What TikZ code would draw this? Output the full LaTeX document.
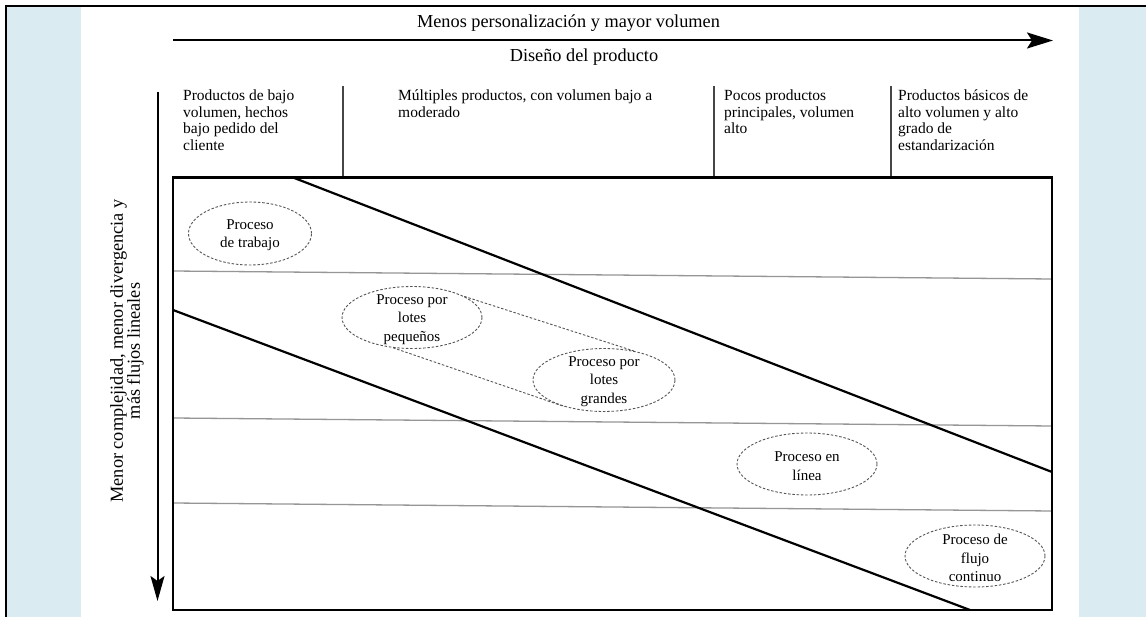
\documentclass[tikz,border=0pt]{standalone}
\usepackage{fontspec}
\setmainfont{Liberation Serif}
\usetikzlibrary{arrows.meta,shapes.geometric}
\definecolor{panelblue}{RGB}{218,236,241}
\definecolor{rowgray}{RGB}{150,150,150}
\definecolor{dashgray}{RGB}{85,85,85}
\definecolor{divgray}{RGB}{70,70,70}

\begin{document}
\begin{tikzpicture}[x=1pt,y=-1pt,
  ttl/.style={anchor=base, inner sep=0pt, font=\fontsize{18.3}{20}\selectfont},
  hdr/.style={anchor=north west, align=left, inner sep=0pt, font=\fontsize{15.5}{16.5}\selectfont},
  vlabel/.style={rotate=90, align=center, inner sep=0pt, font=\fontsize{18.3}{17}\selectfont},
  proc/.style={ellipse, draw=dashgray, line width=0.9pt, dash pattern=on 2.5pt off 1.8pt,
               inner sep=0pt, minimum width=140pt, minimum height=62pt},
  proctext/.style={align=center, inner sep=0pt, font=\fontsize{15}{18.5}\selectfont},
  dashlink/.style={draw=dashgray, line width=0.9pt, dash pattern=on 2.5pt off 1.8pt},
  axisline/.style={line width=2pt},
  divider/.style={draw=divgray, line width=1.3pt},
  rowline/.style={draw=rowgray, line width=1.3pt},
  bandline/.style={line width=2.2pt},
  frameline/.style={line width=2.5pt}]

\useasboundingbox (0,0) rectangle (1146,617);
\fill[white] (0,0) rectangle (1146,617);
% side panels and outer frame
\fill[panelblue] (7,7.5) rectangle (81,617);
\fill[panelblue] (1079,7.5) rectangle (1146,617);
\draw[line width=2pt] (6,617) -- (6,6.5) -- (1146,6.5);

% horizontal axis
\node[ttl] (ttop) at (568.5,27.5) {Menos personalización y mayor volumen};
\coordinate (xa0) at (173,40.5);
\coordinate (xa1) at (1053,40.5);
\draw[axisline, -{Stealth[length=26pt,width=16pt,inset=5pt]}] (xa0) -- (xa1);
\node[ttl] (tdis) at (584,62) {Diseño del producto};

% column headers
\node[hdr] (h1) at (183,90) {Productos de bajo\\volumen, hechos\\bajo pedido del\\cliente};
\node[hdr] (h2) at (398,90) {Múltiples productos, con volumen bajo a\\moderado};
\node[hdr] (h3) at (724,90) {Pocos productos\\principales, volumen\\alto};
\node[hdr] (h4) at (898,90) {Productos básicos de\\alto volumen y alto\\grado de\\estandarización};
\draw[divider] (343,86) -- (343,177);
\draw[divider] (714,86) -- (714,177);
\draw[divider] (891,86) -- (891,177);

% vertical axis
\coordinate (ya0) at (157.5,92);
\coordinate (ya1) at (157.5,601);
\draw[axisline, -{Stealth[length=25pt,width=14pt,inset=5pt]}] (ya0) -- (ya1);
\node[vlabel] (vlab) at (127,351) {Menor complejidad, menor divergencia y\\más flujos lineales};

% matrix rows
\draw[rowline] (173,271) -- (1052,279);
\draw[rowline] (173,418) -- (1052,426);
\draw[rowline] (173,503) -- (1052,511);

% diagonal band
\draw[bandline] (293,177.5) -- (1052,472);
\draw[bandline] (173,310) -- (970,610);

% matrix frame
\draw[frameline] (173,177.5) rectangle (1052,610);

% process types
\node[proc, minimum width=123pt, minimum height=63pt] (e1) at (250,233.5) {};
\node[proc] (e2) at (412,317.5) {};
\node[proc, minimum width=142pt, minimum height=63pt] (e3) at (604,380) {};
\node[proc] (e4) at (807,464) {};
\node[proc] (e5) at (975,556) {};

\node[proctext] (e1t) at (250,235) {Proceso\\de trabajo};
\node[proctext] (e2t) at (412,319.5) {Proceso por\\lotes\\pequeños};
\node[proctext] (e3t) at (604,381.5) {Proceso por\\lotes\\grandes};
\node[proctext] (e4t) at (807,466) {Proceso en\\línea};
\node[proctext] (e5t) at (975,558) {Proceso de\\flujo\\continuo};

\draw[dashlink] (e2.22) -- (e3.44);
\draw[dashlink] (e2.238) -- (e3.214);
\end{tikzpicture}
\end{document}
